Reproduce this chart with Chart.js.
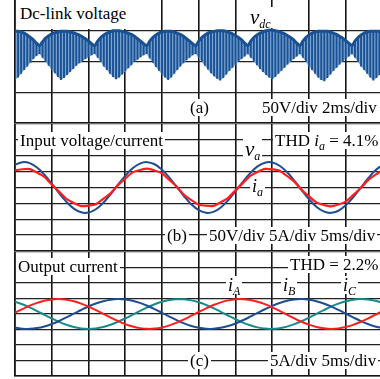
<!DOCTYPE html>
<html>
<head>
<meta charset="utf-8">
<script src="https://cdn.jsdelivr.net/npm/chart.js@4/dist/chart.umd.min.js"></script>
<style>
  html, body { margin: 0; padding: 0; background: #fff; }
  body { width: 380px; height: 379px; overflow: hidden; position: relative; }
  canvas { position: absolute; left: 0; }
  .lbl {
    position: absolute;
    font-family: 'Liberation Serif', 'Times New Roman', serif;
    font-size: 17px;
    line-height: 17px;
    background: #fff;
    white-space: nowrap;
    padding: 0 2px;
    color: #000;
  }
  .lbl sub { font-size: 12px; line-height: 0; vertical-align: -4px; }
  .big { font-size: 21px; line-height: 21px; }
  .mid { font-size: 18px; line-height: 18px; }
</style>
</head>
<body>
<canvas id="panelA" width="390" height="131" style="top:0"></canvas>
<canvas id="panelB" width="390" height="131" style="top:124px"></canvas>
<canvas id="panelC" width="390" height="127" style="top:252px"></canvas>

<div class="lbl" style="left:17px;top:0;padding:5px 3px 7px 3px">Dc-link voltage</div>
<div class="lbl big" style="left:248px;top:7px"><i>v</i><sub><i>dc</i></sub></div>
<div class="lbl" style="left:188px;top:99px">(a)</div>
<div class="lbl" style="left:260px;top:99px">50V/div 2ms/div</div>

<div class="lbl" style="left:18px;top:132px">Input voltage/current</div>
<div class="lbl" style="left:273px;top:132px">THD <i>i</i><sub><i>a</i></sub> = 4.1%</div>
<div class="lbl big" style="left:243px;top:139px"><i>v</i><sub><i>a</i></sub></div>
<div class="lbl mid" style="left:250px;top:177px"><i>i</i><sub><i>a</i></sub></div>
<div class="lbl" style="left:165px;top:227px">(b)</div>
<div class="lbl" style="left:207px;top:227px">50V/div 5A/div 5ms/div</div>

<div class="lbl" style="left:16px;top:258px">Output current</div>
<div class="lbl" style="left:288px;top:256px">THD = 2.2%</div>
<div class="lbl mid" style="left:226px;top:276px"><i>i</i><sub><i>A</i></sub></div>
<div class="lbl mid" style="left:281px;top:276px"><i>i</i><sub><i>B</i></sub></div>
<div class="lbl mid" style="left:341px;top:276px"><i>i</i><sub><i>C</i></sub></div>
<div class="lbl" style="left:188px;top:352px">(c)</div>
<div class="lbl" style="left:268px;top:352px">5A/div 5ms/div</div>

<script>

// (a) tensión del bus DC: envolvente superior / inferior del rizado PWM, una muestra cada 1/6 ms
const dcStepMs = 1 / 6;
const dcUpper = [
  149, 149, 148, 146, 143, 139, 135, 130, 126,
  132, 138, 142, 145, 147, 148, 149, 149, 149, 148, 147, 145, 143, 140, 137, 133, 129, 126,
  133, 139, 143, 146, 148, 150, 150, 150, 149, 148, 146, 144, 141, 137, 133, 129, 126,
  133, 139, 143, 146, 148, 149, 149, 149, 148, 146, 144, 141, 137, 133, 129, 126,
  133, 139, 143, 146, 148, 149, 150, 150, 150, 149, 147, 145, 142, 139, 135, 130, 126,
  133, 139, 143, 146, 148, 150, 151, 151, 150, 149, 147, 145, 142, 139, 135, 130, 126,
  133, 139, 143, 146, 148, 149, 149, 149, 149, 148, 146, 144, 141, 138, 134, 130, 126,
  133, 139, 143, 146, 148, 149, 149, 149, 149, 148
];
const dcLower = [
  70, 74, 80, 86, 92, 98, 104, 109, 112,
  106, 99, 93, 87, 81, 75, 70, 73, 78, 83, 88, 93, 97, 101, 104, 107, 110, 112,
  106, 99, 92, 86, 80, 75, 71, 74, 79, 84, 89, 94, 99, 103, 107, 110, 112,
  105, 98, 91, 85, 79, 74, 70, 74, 80, 86, 92, 97, 102, 106, 110, 112,
  106, 99, 93, 87, 81, 76, 72, 69, 73, 79, 85, 90, 95, 100, 104, 108, 112,
  106, 100, 94, 88, 83, 78, 74, 71, 75, 80, 85, 90, 95, 100, 104, 108, 112,
  106, 99, 92, 86, 80, 74, 70, 68, 73, 79, 85, 90, 95, 100, 104, 108, 112,
  106, 99, 92, 86, 80, 74, 69, 73, 78, 83
];

// (b) tensión de entrada v_a (V) y corriente i_a (A), una muestra por ms
const acStepMs = 1;
const vaValues = [
  71.5, 79.7, 76.7, 62.9, 40.2, 12.0, -18.0, -45.4, -66.5, -78.2,
  -78.9, -68.6, -48.6, -21.8, 8.1, 36.8, 60.4, 75.4, 79.9, 73.2,
  56.2, 31.3, 2.0, -27.6, -53.3, -71.5, -79.7, -76.7, -62.9, -40.2,
  -12.0, 18.0, 45.4, 66.5, 78.2, 78.9, 68.6, 48.6, 21.8, -8.1,
  -36.8, -60.4, -75.4, -79.9, -73.2, -56.2, -31.3, -2.0, 27.6, 53.3, 71.5
];
const iaValues = [
  5.45, 5.75, 5.80, 4.70, 3.30, 0.90, -1.30, -3.60, -4.90, -5.85,
  -5.70, -5.30, -3.60, -1.85, 0.75, 2.80, 4.75, 5.50, 5.95, 5.35,
  4.45, 2.35, 0.30, -2.30, -4.00, -5.45, -5.75, -5.80, -4.65, -3.25,
  -0.85, 1.35, 3.65, 4.90, 5.85, 5.70, 5.30, 3.65, 1.85, -0.75,
  -2.80, -4.70, -5.50, -5.95, -5.35, -4.45, -2.40, -0.25, 2.25, 4.00, 5.40
];

// (c) corrientes de salida i_A, i_B, i_C (A), una muestra por ms
const iAValues = [
  0.41, 1.59, 2.68, 3.59, 4.28, 4.69, 4.80, 4.60, 4.11, 3.36,
  2.39, 1.28, 0.07, -1.14, -2.27, -3.26, -4.04, -4.56, -4.79, -4.71,
  -4.34, -3.68, -2.79, -1.73, -0.55, 0.66, 1.84, 2.89, 3.76, 4.39,
  4.74, 4.78, 4.52, 3.97, 3.17, 2.16, 1.02, -0.18, -1.39, -2.49,
  -3.44, -4.17, -4.63, -4.80, -4.66, -4.22, -3.51, -2.58, -1.48, -0.28, 0.92
];
const iBValues = [
  -4.35, -4.72, -4.79, -4.55, -4.03, -3.24, -2.25, -1.11, 0.09, 1.29,
  2.41, 3.37, 4.12, 4.61, 4.80, 4.68, 4.27, 3.58, 2.66, 1.58,
  0.39, -0.83, -1.98, -3.01, -3.85, -4.45, -4.76, -4.77, -4.47, -3.88,
  -3.05, -2.02, -0.87, 0.34, 1.54, 2.63, 3.55, 4.25, 4.67, 4.80,
  4.62, 4.14, 3.40, 2.44, 1.33, 0.13, -1.08, -2.22, -3.21, -4.01, -4.54
];
const iCValues = [
  3.94, 3.13, 2.11, 0.96, -0.25, -1.45, -2.55, -3.49, -4.20, -4.65,
  -4.80, -4.65, -4.19, -3.47, -2.53, -1.42, -0.23, 0.98, 2.13, 3.13,
  3.95, 4.51, 4.77, 4.74, 4.40, 3.79, 2.92, 1.88, 0.71, -0.51,
  -1.69, -2.76, -3.65, -4.31, -4.71, -4.79, -4.57, -4.07, -3.28, -2.31,
  -1.18, 0.03, 1.23, 2.36, 3.33, 4.09, 4.59, 4.80, 4.69, 4.29, 3.62
];

// --- PARÁMETROS DE LA PANTALLA ---
const GRID_X = '#151515';
const GRID_Y = '#222';
const COLOR_DC_DARK = '#1a5193';
const COLOR_DC_LIGHT = '#7ea6d2';
const COLOR_RED = '#ff1e1e';
const COLOR_BLUE = '#1d4d92';
const COLOR_TEAL = '#178b8b';

const toPoints = (values, step) => values.map((v, i) => ({ x: i * step, y: v }));

function scopeOptions(xMax, xStep, yMin, yMax, yStep, padTop, padBottom, hideTop) {
  return {
    animation: false,
    responsive: false,
    maintainAspectRatio: false,
    layout: { padding: { left: 15, right: 7.5, top: padTop, bottom: padBottom } },
    plugins: { legend: { display: false }, tooltip: { enabled: false } },
    elements: { point: { radius: 0 } },
    scales: {
      x: {
        type: 'linear', min: 0, max: xMax, offset: false,
        ticks: { display: false, stepSize: xStep },
        grid: { color: GRID_X, lineWidth: 1.6, drawTicks: false, offset: false },
        border: { display: true, color: GRID_X, width: 1.4 }
      },
      y: {
        type: 'linear', min: yMin, max: yMax,
        ticks: { display: false, stepSize: yStep },
        grid: {
          drawTicks: false, lineWidth: 1.3,
          color: ctx => (hideTop && ctx.tick && ctx.tick.value === yMax) ? 'rgba(0,0,0,0)' : GRID_Y
        },
        border: { display: true, color: GRID_X, width: 1.6 }
      }
    }
  };
}

// (a) Dc-link voltage
new Chart(document.getElementById('panelA'), {
  type: 'bar',
  data: {
    datasets: [
      {
        type: 'line', data: toPoints(dcLower, dcStepMs),
        borderColor: 'rgba(0,0,0,0)', borderWidth: 0, fill: false, order: 3
      },
      {
        type: 'line', data: toPoints(dcUpper, dcStepMs),
        borderColor: COLOR_DC_DARK, borderWidth: 3, tension: 0.3,
        fill: '-1', backgroundColor: COLOR_DC_LIGHT, order: 2
      },
      {
        type: 'bar',
        data: dcUpper.map((u, i) => ({ x: i * dcStepMs, y: [dcLower[i], u] })),
        backgroundColor: COLOR_DC_DARK, borderWidth: 0,
        barPercentage: 0.62, categoryPercentage: 1, order: 1
      }
    ]
  },
  options: scopeOptions(20, 2, 0, 200, 50, 0, 8, true)
});

// (b) Input voltage/current  (50V/div y 5A/div comparten la misma rejilla)
const optsB = scopeOptions(50, 5, -200, 200, 50, 0, 4, false);
optsB.scales.yI = { type: 'linear', display: false, min: -20, max: 20 };
new Chart(document.getElementById('panelB'), {
  type: 'line',
  data: {
    datasets: [
      {
        data: toPoints(vaValues, acStepMs), yAxisID: 'y',
        borderColor: COLOR_BLUE, borderWidth: 2, tension: 0.4, order: 2
      },
      {
        data: toPoints(iaValues, acStepMs), yAxisID: 'yI',
        borderColor: COLOR_RED, borderWidth: 2.2, tension: 0.15, order: 1
      }
    ]
  },
  options: optsB
});

// (c) Output current
new Chart(document.getElementById('panelC'), {
  type: 'line',
  data: {
    datasets: [
      { data: toPoints(iAValues, acStepMs), borderColor: COLOR_RED, borderWidth: 2, tension: 0.4 },
      { data: toPoints(iBValues, acStepMs), borderColor: COLOR_BLUE, borderWidth: 2, tension: 0.4 },
      { data: toPoints(iCValues, acStepMs), borderColor: COLOR_TEAL, borderWidth: 2, tension: 0.4 }
    ]
  },
  options: scopeOptions(50, 5, -20, 20, 5, 0, 3, false)
});
</script>
</body>
</html>
